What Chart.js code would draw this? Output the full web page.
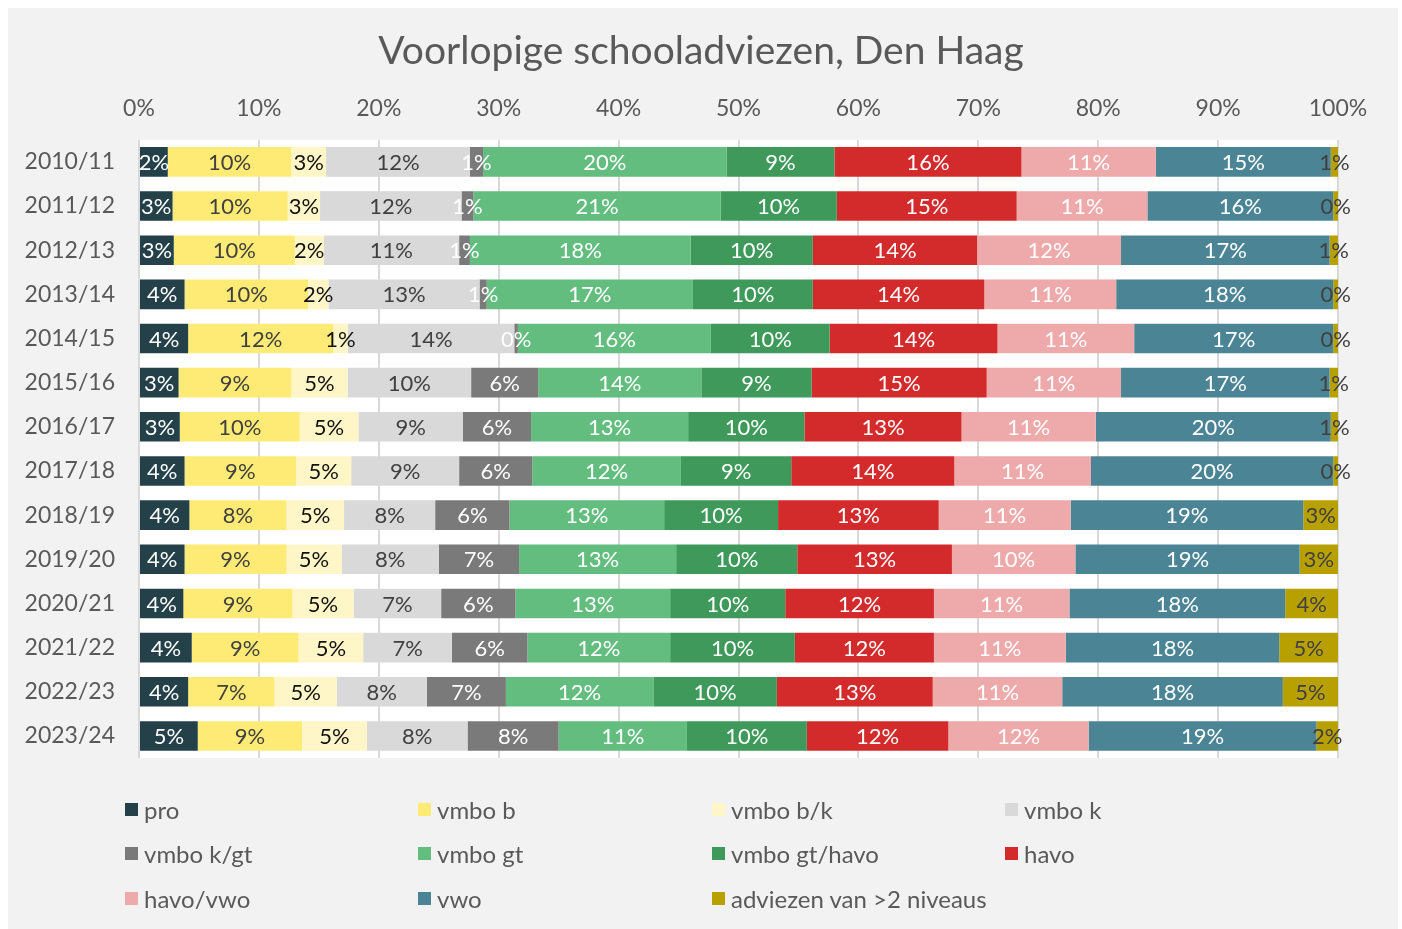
<!DOCTYPE html>
<html>
<head>
<meta charset="utf-8">
<script src="https://cdn.jsdelivr.net/npm/chart.js@4.4.1/dist/chart.umd.min.js"></script>
<style>
  html, body { margin: 0; padding: 0; background: #ffffff; }
  #wrap { position: absolute; left: 8px; top: 8px; width: 1390px; height: 921px; background: #f2f2f2; overflow: hidden; }
  #c { position: absolute; left: 0; top: 0; }
  .lg { position: absolute; height: 30px; display: flex; align-items: center; font-family: Lato, "Open Sans", sans-serif; font-size: 24px; color: #595959; white-space: nowrap; }
  .lg span.box { width: 13px; height: 13px; margin-right: 6px; display: inline-block; }
</style>
</head>
<body>
<div id="wrap">
  <canvas id="c" width="1390" height="921"></canvas>
  <div id="legend"></div>
</div>
<script>
const categories = ["2010/11","2011/12","2012/13","2013/14","2014/15","2015/16","2016/17","2017/18","2018/19","2019/20","2020/21","2021/22","2022/23","2023/24"];
const seriesNames = ["pro","vmbo b","vmbo b/k","vmbo k","vmbo k/gt","vmbo gt","vmbo gt/havo","havo","havo/vwo","vwo","adviezen van >2 niveaus"];
const pro      = [2.4, 2.8, 2.9, 3.8, 4.1, 3.3, 3.4, 3.8, 4.2, 3.8, 3.7, 4.4, 4.1, 4.9];
const vmboB    = [10.3, 9.6, 10.1, 10.3, 12.1, 9.4, 10.0, 9.3, 8.1, 8.5, 9.1, 8.9, 7.2, 8.7];
const vmboBK   = [2.9, 2.7, 2.4, 1.7, 1.2, 4.7, 4.9, 4.6, 4.8, 4.6, 5.1, 5.4, 5.2, 5.4];
const vmboK    = [12.0, 11.8, 11.3, 12.6, 13.9, 10.3, 8.7, 9.0, 7.6, 8.1, 7.3, 7.4, 7.5, 8.4];
const vmboKGT  = [1.1, 1.0, 0.9, 0.6, 0.3, 5.6, 5.7, 6.1, 6.2, 6.7, 6.2, 6.3, 6.6, 7.6];
const vmboGT   = [20.3, 20.6, 18.4, 17.2, 16.1, 13.6, 13.1, 12.4, 12.9, 13.1, 12.9, 11.9, 12.3, 10.7];
const vmboGTH  = [9.0, 9.7, 10.2, 10.0, 9.9, 9.2, 9.7, 9.2, 9.5, 10.1, 9.6, 10.4, 10.3, 10.0];
const havo     = [15.6, 15.0, 13.7, 14.3, 14.0, 14.6, 13.1, 13.6, 13.4, 12.9, 12.4, 11.6, 13.0, 11.8];
const havoVwo  = [11.2, 10.9, 12.0, 11.0, 11.4, 11.2, 11.2, 11.4, 11.0, 10.3, 11.3, 11.0, 10.8, 11.7];
const vwo      = [14.6, 15.5, 17.4, 18.1, 16.6, 17.4, 19.6, 20.2, 19.4, 18.7, 18.0, 17.8, 18.4, 19.0];
const multi    = [0.6, 0.4, 0.7, 0.4, 0.4, 0.7, 0.6, 0.4, 2.9, 3.2, 4.4, 4.9, 4.6, 1.8];
const xTicks   = [0,10,20,30,40,50,60,70,80,90,100];

const seriesValues = [pro, vmboB, vmboBK, vmboK, vmboKGT, vmboGT, vmboGTH, havo, havoVwo, vwo, multi];
const colors = ["#24414a","#feeb75","#fff6c8","#d9d9d9","#7a7a7a","#62bd7e","#3e995a","#d32b2b","#eeaaaa","#4b8595","#b8a000"];
const labelColors = ["#ffffff","#404040","#111111","#404040","#ffffff","#ffffff","#ffffff","#ffffff","#ffffff","#ffffff","#404040"];
const FONT = "Lato, 'Open Sans', sans-serif";

const datasets = seriesNames.map((n, i) => ({
  label: n,
  data: seriesValues[i],
  backgroundColor: colors[i],
  borderWidth: 0,
  categoryPercentage: 1,
  barPercentage: 0.67
}));

const plotBg = {
  id: 'plotBg',
  beforeDraw(chart) {
    const {ctx, chartArea: a} = chart;
    ctx.save();
    ctx.fillStyle = '#ffffff';
    ctx.fillRect(a.left, a.top, a.right - a.left, a.bottom - a.top);
    ctx.restore();
  }
};

const valueLabels = {
  id: 'valueLabels',
  afterDatasetsDraw(chart) {
    const ctx = chart.ctx;
    ctx.save();
    ctx.font = "22px " + FONT;
    ctx.textAlign = 'center';
    ctx.textBaseline = 'middle';
    chart.data.datasets.forEach((ds, di) => {
      const meta = chart.getDatasetMeta(di);
      meta.data.forEach((bar, j) => {
        const v = ds.data[j];
        const cx = (bar.x + bar.base) / 2;
        ctx.fillStyle = labelColors[di];
        ctx.fillText(Math.round(v) + '%', cx, bar.y + 1);
      });
    });
    ctx.restore();
  }
};

new Chart(document.getElementById('c'), {
  type: 'bar',
  data: { labels: categories, datasets },
  plugins: [plotBg, valueLabels],
  options: {
    indexAxis: 'y',
    responsive: false,
    animation: false,
    layout: { padding: { left: 0, right: 4, top: 0, bottom: 171 } },
    plugins: {
      legend: { display: false },
      tooltip: { enabled: false },
      title: {
        display: true,
        text: 'Voorlopige schooladviezen, Den Haag',
        color: '#595959',
        font: { family: FONT, size: 39, weight: 'normal', lineHeight: 1.2 },
        padding: { top: 20, bottom: 0 }
      }
    },
    scales: {
      x: {
        position: 'top',
        stacked: true,
        min: 0, max: 100,
        afterBuildTicks(scale) { scale.ticks = xTicks.map(v => ({ value: v })); },
        afterFit(scale) { scale.height = 65; },
        ticks: {
          callback: v => v + '%',
          color: '#595959',
          font: { family: FONT, size: 23 },
          padding: 17,
          maxRotation: 0
        },
        grid: { color: '#d9d9d9', lineWidth: 2, drawTicks: false },
        border: { display: false }
      },
      y: {
        stacked: true,
        afterFit(scale) { scale.width = 131; },
        ticks: {
          color: '#595959',
          font: { family: FONT, size: 23 },
          padding: 24
        },
        grid: { display: false, drawTicks: false },
        border: { display: false }
      },
      yRightSpace: {
        axis: 'y',
        type: 'category',
        position: 'right',
        afterFit(scale) { scale.width = 56; },
        ticks: { display: false },
        grid: { display: false, drawTicks: false },
        border: { display: false }
      }
    }
  }
});

// HTML legend built from the series arrays
const legend = document.getElementById('legend');
const colLeft = [117, 410, 704, 997];
const rowMid = [801, 845, 890];
seriesNames.forEach((n, i) => {
  const d = document.createElement('div');
  d.className = 'lg';
  d.style.left = colLeft[i % 4] + 'px';
  d.style.top = (rowMid[Math.floor(i / 4)] - 15) + 'px';
  const b = document.createElement('span');
  b.className = 'box';
  b.style.background = colors[i];
  d.appendChild(b);
  d.appendChild(document.createTextNode(n));
  legend.appendChild(d);
});
</script>
</body>
</html>
